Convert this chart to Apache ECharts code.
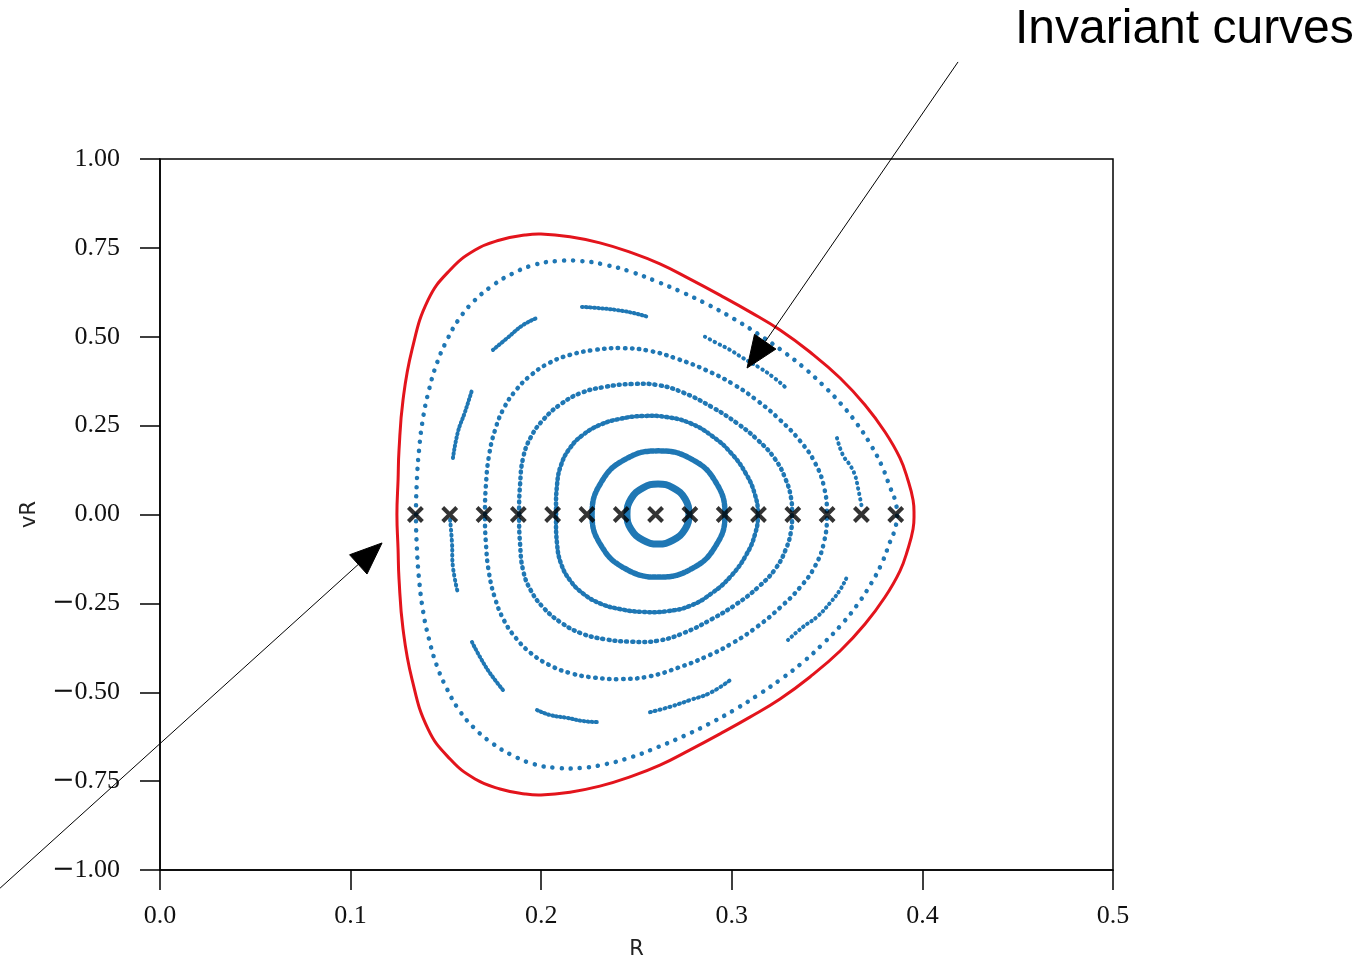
<!DOCTYPE html>
<html>
<head>
<meta charset="utf-8">
<script src="https://cdn.jsdelivr.net/npm/echarts@6/dist/echarts.min.js"></script>
<style>html,body{margin:0;padding:0;background:#fff;}#c{width:1364px;height:963px;}</style>
</head>
<body>
<div id="c"></div>
<script>
// ---- data (R, vR) ----
const xTicks = [0.0, 0.1, 0.2, 0.3, 0.4, 0.5];
const yTicks = [-1.0, -0.75, -0.5, -0.25, 0.0, 0.25, 0.5, 0.75, 1.0];

// red boundary curve (closed loop)
const boundaryCurve = [
  [0.1243,0],[0.1249,0.097],[0.1254,0.181],[0.1275,0.322],[0.1322,0.463],[0.1406,0.603],[0.1522,0.688],
  [0.1653,0.744],[0.1784,0.772],[0.1915,0.786],[0.1999,0.789],[0.2151,0.781],[0.2308,0.764],[0.2466,0.738],
  [0.2623,0.705],[0.2781,0.662],[0.2938,0.617],[0.3095,0.570],[0.3253,0.519],[0.3410,0.457],[0.3568,0.384],
  [0.3699,0.308],[0.3804,0.232],[0.3882,0.159],[0.3924,0.097],[0.3951,0.041],[0.3956,0],
  [0.3951,-0.041],[0.3924,-0.097],[0.3882,-0.159],[0.3804,-0.232],[0.3699,-0.308],[0.3568,-0.384],
  [0.3410,-0.457],[0.3253,-0.519],[0.3095,-0.570],[0.2938,-0.617],[0.2781,-0.662],[0.2623,-0.705],
  [0.2466,-0.738],[0.2308,-0.764],[0.2151,-0.781],[0.1999,-0.789],[0.1915,-0.786],[0.1784,-0.772],
  [0.1653,-0.744],[0.1522,-0.688],[0.1406,-0.603],[0.1322,-0.463],[0.1275,-0.322],[0.1254,-0.181],[0.1249,-0.097]
];

// invariant curves (closed loops)
const curve1 = [
  [0.2450,0],[0.2471,0.044],[0.2534,0.075],[0.2613,0.086],[0.2692,0.075],[0.2755,0.044],[0.2775,0],
  [0.2755,-0.041],[0.2692,-0.072],[0.2613,-0.083],[0.2534,-0.072],[0.2471,-0.041]
];
const curve2 = [
  [0.2267,0],[0.2314,0.090],[0.2440,0.155],[0.2615,0.179],[0.2791,0.155],[0.2917,0.090],[0.2964,0],
  [0.2917,-0.087],[0.2791,-0.152],[0.2615,-0.176],[0.2440,-0.152],[0.2314,-0.087]
];
const curve3 = [
  [0.2078,0],[0.2083,0.083],[0.2104,0.139],[0.2151,0.187],[0.2219,0.224],[0.2308,0.252],[0.2413,0.269],
  [0.2534,0.277],[0.2660,0.274],[0.2781,0.257],[0.2896,0.221],[0.2996,0.173],[0.3075,0.114],[0.3122,0.055],
  [0.3137,0],[0.3122,-0.055],[0.3075,-0.114],[0.2996,-0.173],[0.2896,-0.221],[0.2781,-0.257],[0.2660,-0.272],
  [0.2534,-0.274],[0.2413,-0.266],[0.2308,-0.250],[0.2219,-0.222],[0.2151,-0.185],[0.2104,-0.138],[0.2083,-0.082]
];
const curve4 = [
  [0.1884,0],[0.1889,0.083],[0.1905,0.159],[0.1946,0.218],[0.2015,0.269],[0.2104,0.311],[0.2209,0.342],
  [0.2335,0.359],[0.2477,0.367],[0.2613,0.364],[0.2749,0.342],[0.2896,0.302],[0.3027,0.257],[0.3137,0.209],
  [0.3227,0.156],[0.3284,0.097],[0.3311,0.046],[0.3316,0],[0.3311,-0.046],[0.3284,-0.097],[0.3227,-0.154],
  [0.3137,-0.205],[0.3027,-0.251],[0.2896,-0.294],[0.2749,-0.333],[0.2613,-0.355],[0.2477,-0.358],
  [0.2335,-0.351],[0.2209,-0.334],[0.2104,-0.304],[0.2015,-0.264],[0.1946,-0.214],[0.1905,-0.157],[0.1889,-0.082]
];
const curve5 = [
  [0.1705,0],[0.1710,0.083],[0.1726,0.165],[0.1758,0.238],[0.1805,0.300],[0.1868,0.350],[0.1946,0.392],
  [0.2041,0.426],[0.2151,0.449],[0.2282,0.463],[0.2424,0.468],[0.2571,0.460],[0.2718,0.437],[0.2865,0.406],
  [0.3006,0.367],[0.3137,0.319],[0.3253,0.266],[0.3358,0.207],[0.3437,0.145],[0.3484,0.077],[0.3499,0],
  [0.3484,-0.077],[0.3437,-0.145],[0.3358,-0.205],[0.3253,-0.262],[0.3137,-0.314],[0.3006,-0.361],
  [0.2865,-0.400],[0.2718,-0.431],[0.2571,-0.455],[0.2424,-0.463],[0.2282,-0.459],[0.2151,-0.446],
  [0.2041,-0.423],[0.1946,-0.390],[0.1868,-0.348],[0.1805,-0.298],[0.1758,-0.236],[0.1726,-0.164],[0.1710,-0.082]
];
const curve7 = [
  [0.1343,0],[0.1348,0.097],[0.1359,0.181],[0.1380,0.271],[0.1411,0.350],[0.1453,0.426],[0.1506,0.491],
  [0.1569,0.550],[0.1647,0.600],[0.1742,0.643],[0.1847,0.677],[0.1962,0.702],[0.2083,0.713],[0.2209,0.713],
  [0.2340,0.702],[0.2476,0.682],[0.2613,0.654],[0.2749,0.623],[0.2880,0.589],[0.3012,0.550],[0.3137,0.508],
  [0.3258,0.463],[0.3374,0.415],[0.3478,0.364],[0.3573,0.311],[0.3657,0.255],[0.3730,0.195],[0.3788,0.136],
  [0.3830,0.077],[0.3856,0.041],[0.3867,0],[0.3856,-0.041],[0.3830,-0.077],[0.3788,-0.136],[0.3730,-0.195],
  [0.3657,-0.255],[0.3573,-0.311],[0.3478,-0.364],[0.3374,-0.415],[0.3258,-0.463],[0.3137,-0.508],
  [0.3012,-0.550],[0.2880,-0.589],[0.2749,-0.623],[0.2613,-0.654],[0.2476,-0.682],[0.2340,-0.702],
  [0.2209,-0.713],[0.2083,-0.713],[0.1962,-0.702],[0.1847,-0.677],[0.1742,-0.643],[0.1647,-0.600],
  [0.1569,-0.550],[0.1506,-0.491],[0.1453,-0.426],[0.1411,-0.350],[0.1380,-0.271],[0.1359,-0.181],[0.1348,-0.097]
];

// resonant island chain (one orbit, ten arcs; open segments)
const islandA = [[0.3552,0.215],[0.3583,0.167],[0.3620,0.139],[0.3646,0.111],[0.3662,0.075],[0.3683,0.018]];
const islandB = [[0.2859,0.500],[0.2922,0.482],[0.2991,0.463],[0.3059,0.440],[0.3148,0.412],[0.3216,0.387],[0.3279,0.359]];
const islandC = [[0.2214,0.584],[0.2293,0.581],[0.2398,0.575],[0.2482,0.567],[0.2560,0.556]];
const islandD = [[0.1747,0.463],[0.1821,0.496],[0.1905,0.533],[0.1978,0.553]];
const islandE = [[0.1537,0.159],[0.1563,0.232],[0.1600,0.288],[0.1637,0.350]];
const islandF = [[0.1522,-0.015],[0.1532,-0.080],[0.1537,-0.148],[0.1563,-0.221]];
const islandG = [[0.1637,-0.359],[0.1679,-0.401],[0.1731,-0.446],[0.1800,-0.494]];
const islandH = [[0.1978,-0.550],[0.2046,-0.564],[0.2135,-0.572],[0.2219,-0.581],[0.2293,-0.584]];
const islandI = [[0.2571,-0.556],[0.2676,-0.541],[0.2781,-0.522],[0.2886,-0.502],[0.2991,-0.466]];
const islandJ = [[0.3295,-0.353],[0.3374,-0.316],[0.3447,-0.288],[0.3515,-0.249],[0.3568,-0.212],[0.3604,-0.176]];

// initial conditions (vR = 0)
const startR = [0.134,0.152,0.170,0.188,0.206,0.224,0.242,0.260,0.278,0.296,0.314,0.332,0.350,0.368,0.386];

// annotation arrows (data units)
const annotationText = 'Invariant curves';
const arrowTails = [[0.4187, 1.273], [-0.0839, -1.051]];
const arrowTips  = [[0.308, 0.412], [0.1165, -0.080]];

// ---- chart ----
const BLUE = '#1f77b4';
const RED = '#e3141c';
const chart = echarts.init(document.getElementById('c'), null, {renderer: 'canvas'});

function curveSeries(name, pts, closed, color, width, dash, z) {
  return {
    name: name, type: 'custom', coordinateSystem: 'cartesian2d', silent: true, clip: false, z: z || 3,
    data: [pts[0]],
    renderItem: function (params, api) {
      return {
        type: closed ? 'polygon' : 'polyline',
        shape: {points: pts.map(p => api.coord(p)), smooth: 0.45},
        style: {fill: closed ? 'none' : null, stroke: color, lineWidth: width,
                lineDash: dash, lineCap: 'round', lineJoin: 'round'}
      };
    }
  };
}

const fmtY = v => (v < 0 ? '{m|\u2212}' : '') + Math.abs(v).toFixed(2);
const fmtX = v => v.toFixed(1);

const islands = [islandA, islandB, islandC, islandD, islandE, islandF, islandG, islandH, islandI, islandJ];
const islandDash = [[0.5,5],[0.5,5],[1,3],[1,3],[1,3],[1,4],[1,3],[1,3],[1,4],[0.5,4.5]];

const series = [
  curveSeries('boundary', boundaryCurve, true, RED, 3, null, 2),
  curveSeries('c1', curve1, true, BLUE, 7, null),
  curveSeries('c2', curve2, true, BLUE, 5.5, [3, 2]),
  curveSeries('c3', curve3, true, BLUE, 4.5, [1.5, 3.5]),
  curveSeries('c4', curve4, true, BLUE, 4.5, [1, 5]),
  curveSeries('c5', curve5, true, BLUE, 4.5, [0.5, 6.5]),
  curveSeries('c7', curve7, true, BLUE, 4.5, [0.1, 9])
].concat(islands.map((d, i) => curveSeries('island' + i, d, false, BLUE, 4, islandDash[i])))
 .concat([{
   name: 'start', type: 'scatter', z: 6, silent: true,
   data: startR.map(r => [r, 0]),
   symbol: 'path://M0,0L10,10M10,0L0,10', symbolSize: 14,
   itemStyle: {color: 'rgba(0,0,0,0)', borderColor: '#000', borderWidth: 4}
 }]);

const labelFont = {fontFamily: 'Liberation Serif', fontSize: 26, color: '#111'};

chart.setOption({
  animation: false,
  backgroundColor: '#fff',
  grid: {left: 160, right: 251, top: 159, bottom: 93, outerBoundsMode: 'none', containLabel: false,
         show: true, borderColor: '#000', borderWidth: 1.5, backgroundColor: '#fff'},
  xAxis: {
    type: 'value', min: xTicks[0], max: xTicks[xTicks.length - 1], interval: 0.1,
    name: 'R', nameLocation: 'middle', nameGap: 69,
    nameTextStyle: {fontFamily: 'DejaVu Sans', fontSize: 21, color: '#222'},
    axisLine: {show: true, onZero: false, lineStyle: {color: '#000', width: 1.5}},
    axisTick: {show: true, inside: false, length: 20, lineStyle: {color: '#000', width: 1.5}},
    axisLabel: Object.assign({margin: 33, formatter: fmtX, showMinLabel: true, showMaxLabel: true}, labelFont),
    splitLine: {show: false}
  },
  yAxis: {
    type: 'value', min: yTicks[0], max: yTicks[yTicks.length - 1], interval: 0.25,
    name: 'vR', nameLocation: 'middle', nameGap: 120, nameRotate: 90,
    nameTextStyle: {fontFamily: 'DejaVu Sans', fontSize: 21, color: '#222'},
    axisLine: {show: true, onZero: false, lineStyle: {color: '#000', width: 1.5}},
    axisTick: {show: true, inside: false, length: 20, lineStyle: {color: '#000', width: 1.5}},
    axisLabel: Object.assign({margin: 40, formatter: fmtY, showMinLabel: true, showMaxLabel: true,
      rich: {m: {fontFamily: 'DejaVu Serif', fontSize: 27, color: '#111'}}}, labelFont),
    splitLine: {show: false}
  },
  series: series
});

// annotations: arrows placed through the grid's own coordinate conversion
const graphics = [];
for (let i = 0; i < arrowTails.length; i++) {
  const t = chart.convertToPixel({gridIndex: 0}, arrowTails[i]);
  const p = chart.convertToPixel({gridIndex: 0}, arrowTips[i]);
  const dx = p[0] - t[0], dy = p[1] - t[1];
  const L = Math.sqrt(dx * dx + dy * dy);
  const ux = dx / L, uy = dy / L;
  const headLen = 32, headHalf = 13;
  const bx = p[0] - ux * headLen, by = p[1] - uy * headLen;
  graphics.push({
    type: 'line', z: 100, silent: true,
    shape: {x1: t[0], y1: t[1], x2: bx, y2: by},
    style: {stroke: '#000', lineWidth: 1}
  });
  graphics.push({
    type: 'polygon', z: 100, silent: true,
    shape: {points: [[p[0], p[1]], [bx - uy * headHalf, by + ux * headHalf], [bx + uy * headHalf, by - ux * headHalf]]},
    style: {fill: '#000', stroke: '#000', lineWidth: 1}
  });
}
graphics.push({
  type: 'text', z: 100, silent: true, x: 1015, y: 6,
  style: {text: annotationText, font: '48px "Liberation Sans"', fill: '#000', textAlign: 'left', textVerticalAlign: 'top', align: 'left', verticalAlign: 'top'}
});
chart.setOption({graphic: {elements: graphics}});
</script>
</body>
</html>
